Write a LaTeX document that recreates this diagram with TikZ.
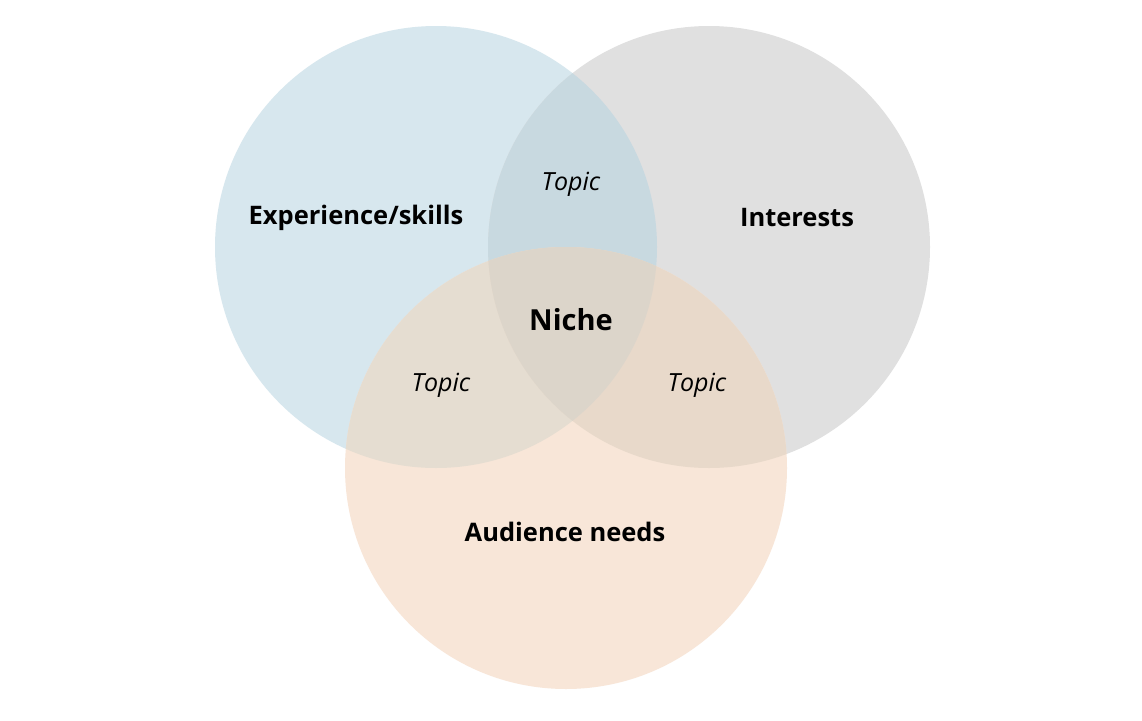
\documentclass[tikz,border=0pt]{standalone}
\usepackage{fontspec}
\setmainfont{Open Sans}
\definecolor{cblue}{HTML}{D7E7EE}
\definecolor{cgray}{HTML}{E0E0E0}
\definecolor{corange}{HTML}{F8E6D8}
\definecolor{cbg}{HTML}{C8D9E0}
\definecolor{cbo}{HTML}{E5DDD1}
\definecolor{cgo}{HTML}{E8D9CA}
\definecolor{call}{HTML}{DCD5CA}
\tikzset{
  lbl/.style={font=\fontsize{25.5}{30}\selectfont\bfseries, text=black},
  nich/.style={font=\fontsize{29}{34}\selectfont\bfseries, text=black},
  topic/.style={font=\fontsize{25}{30}\selectfont\itshape, text=black}
}
\begin{document}
\begin{tikzpicture}[x=1pt,y=-1pt]
\useasboundingbox (0,0) rectangle (1142,720);
\fill[white] (0,0) rectangle (1142,720);
\def\cB{(436,247) circle (221)}
\def\cG{(709,247) circle (221)}
\def\cO{(566,468) circle (221)}
\fill[cblue] \cB;
\fill[cgray] \cG;
\fill[corange] \cO;
\begin{scope}\clip \cB; \fill[cbg] \cG; \end{scope}
\begin{scope}\clip \cB; \fill[cbo] \cO; \end{scope}
\begin{scope}\clip \cG; \fill[cgo] \cO; \end{scope}
\begin{scope}\clip \cB; \clip \cG; \fill[call] \cO; \end{scope}
\node[lbl] (exp) at (356,218) {Experience/skills};
\node[lbl] (int) at (797,218) {Interests};
\node[lbl] (aud) at (565,532) {Audience needs};
\node[nich] (niche) at (571,320) {Niche};
\node[topic] (t1) at (571,184) {Topic};
\node[topic] (t2) at (441,385) {Topic};
\node[topic] (t3) at (697,385) {Topic};
\end{tikzpicture}
\end{document}
